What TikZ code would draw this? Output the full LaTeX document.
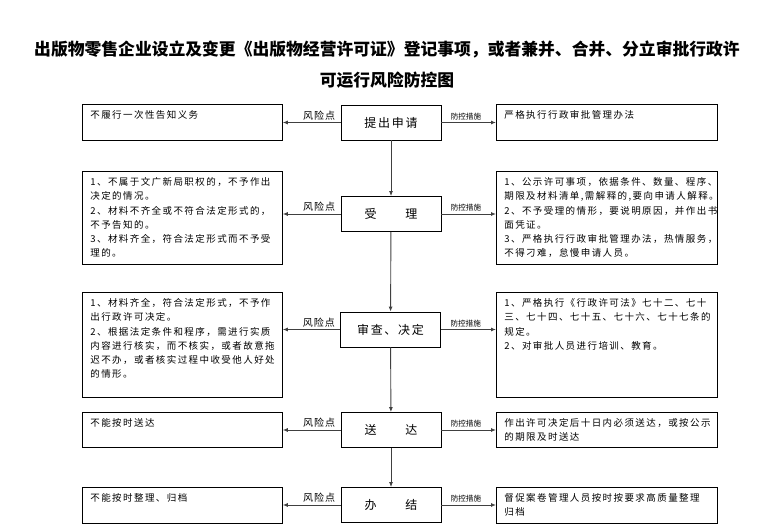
\documentclass[tikz,border=0pt]{standalone}
\usepackage{fontspec}
\setmainfont{Noto Sans CJK SC}
\newfontfamily\sidefamily[LetterSpace=15]{Noto Sans CJK SC}
\newfontfamily\stagefamily[LetterSpace=14]{Noto Sans CJK SC}
\newfontfamily\riskfamily[LetterSpace=10]{Noto Sans CJK SC}
\usetikzlibrary{arrows.meta, positioning}

\newcommand{\sidefont}{\sidefamily\fontsize{9.5}{14.3}\selectfont}
\newcommand{\sidetext}[3]{\parbox[c][#2][t]{#1}{\raggedright #3}}

\tikzset{
  side/.style={draw, line width=0.8pt, inner xsep=8pt, inner ysep=6pt, anchor=north west, font=\sidefont},
  stage/.style={draw, line width=0.8pt, minimum width=100pt, minimum height=35pt, inner sep=0pt,
    font=\stagefamily\fontsize{12}{14}\selectfont},
  link/.style={-{Latex[length=5pt,width=4pt]}, line width=0.9pt, draw=black!75},
  risk/.style={above, pos=0.37, inner sep=2pt, font=\riskfamily\fontsize{10}{12}\selectfont},
  measure/.style={above, pos=0.45, inner sep=2pt, font=\fontsize{7.6}{9}\selectfont}
}

\begin{document}
\begin{tikzpicture}[x=1pt, y=-1pt]
\useasboundingbox (0,0) rectangle (774,526);

\node[font=\bfseries\fontsize{16.8}{20}\selectfont] (title1) at (387,49)
  {出版物零售企业设立及变更《出版物经营许可证》登记事项，或者兼并、合并、分立审批行政许};
\node[font=\bfseries\fontsize{16.8}{20}\selectfont] (title2) at (387,80) {可运行风险防控图};

% process
\node[stage] (c1) at (391,122.5) {提出申请};
\node[stage] (c2) at (391,214) {受\hspace{29pt}理};
\node[stage] (c3) at (390.5,329.5) {审查、决定};
\node[stage] (c4) at (391,430) {送\hspace{29pt}达};
\node[stage] (c5) at (391,505) {办\hspace{29pt}结};

% risk points
\node[side] (l1) at (82,104) {\sidetext{184pt}{24pt}{不履行一次性告知义务}};
\node[side] (l2) at (82,171) {\sidetext{184pt}{81pt}{1、不属于文广新局职权的，不予作出\\
决定的情况。\\
2、材料不齐全或不符合法定形式的，\\
不予告知的。\\
3、材料齐全，符合法定形式而不予受\\
理的。}};
\node[side] (l3) at (82,292) {\sidetext{184pt}{93pt}{1、材料齐全，符合法定形式，不予作\\
出行政许可决定。\\
2、根据法定条件和程序，需进行实质\\
内容进行核实，而不核实，或者故意拖\\
迟不办，或者核实过程中收受他人好处\\
的情形。}};
\node[side] (l4) at (82,412) {\sidetext{184pt}{23pt}{不能按时送达}};
\node[side] (l5) at (82,487) {\sidetext{184pt}{24pt}{不能按时整理、归档}};

% measures
\node[side] (r1) at (496,104) {\sidetext{205pt}{24pt}{严格执行行政审批管理办法}};
\node[side] (r2) at (496,171) {\sidetext{205pt}{81pt}{1、公示许可事项，依据条件、数量、程序、\\
期限及材料清单,需解释的,要向申请人解释。\\
2、不予受理的情形，要说明原因，并作出书\\
面凭证。\\
3、严格执行行政审批管理办法，热情服务，\\
不得刁难，怠慢申请人员。}};
\node[side] (r3) at (496,292) {\sidetext{205pt}{93pt}{1、严格执行《行政许可法》七十二、七十\\
三、七十四、七十五、七十六、七十七条的\\
规定。\\
2、对审批人员进行培训、教育。}};
\node[side] (r4) at (496,412) {\sidetext{205pt}{23pt}{作出许可决定后十日内必须送达，或按公示\\
的期限及时送达}};
\node[side] (r5) at (496,487) {\sidetext{205pt}{24pt}{督促案卷管理人员按时按要求高质量整理\\
归档}};

\draw[link] (c1) -- (c2);
\draw[link] (c2) -- (c3);
\draw[link] (c3) -- (c4);
\draw[link] (c4) -- (c5);

\foreach \i in {1,...,5} {
  \draw[link] (c\i.west) -- node[risk] {风险点} (c\i.west -| l\i.east);
  \draw[link] (c\i.east) -- node[measure] {防控措施} (c\i.east -| r\i.west);
}
\end{tikzpicture}
\end{document}
